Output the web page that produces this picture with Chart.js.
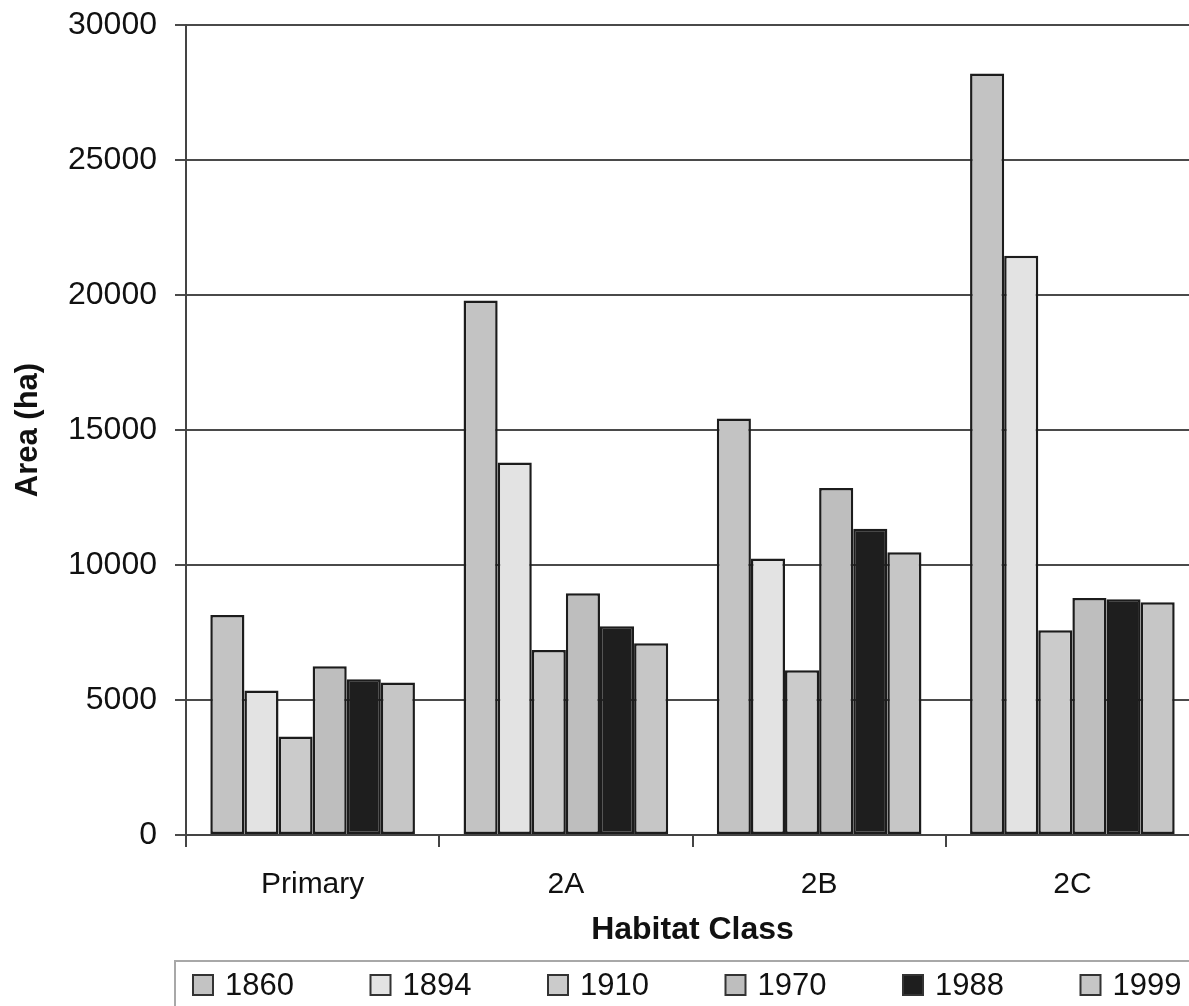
<!DOCTYPE html>
<html>
<head>
<meta charset="utf-8">
<title>Area by Habitat Class</title>
<script src="https://cdn.jsdelivr.net/npm/chart.js@4.4.1/dist/chart.umd.min.js"></script>
<style>
    html, body { margin: 0; padding: 0; background: #ffffff; overflow: hidden; }
    #wrap { width: 1200px; height: 1006px; }
</style>
</head>
<body>
<div id="wrap">
    <canvas id="areaChart" width="1200" height="1006"></canvas>
</div>
<script>
// Data (perkiraan)
const categories = ['Primary', '2A', '2B', '2C'];
const years = ['1860', '1894', '1910', '1970', '1988', '1999'];

const area1860 = [8150, 19800, 15430, 28200];
const area1894 = [5350, 13800, 10240, 21450];
const area1910 = [3650, 6850, 6100, 7580];
const area1970 = [6250, 8950, 12850, 8780];
const area1988 = [5770, 7730, 11340, 8730];
const area1999 = [5650, 7100, 10470, 8620];

const yTicks = [0, 5000, 10000, 15000, 20000, 25000, 30000];

const seriesValues = [area1860, area1894, area1910, area1970, area1988, area1999];
const seriesColors = ['#c3c3c3', '#e3e3e3', '#cbcbcb', '#bebebe', '#1e1e1e', '#c6c6c6'];

const FONT = '"Liberation Sans", Arial, Helvetica, sans-serif';

// Legend digambar manual supaya posisinya sama dengan gambar asli
const boxLegend = {
    id: 'boxLegend',
    afterDraw(chart, args, opts) {
        const ctx = chart.ctx;
        ctx.save();

        // kotak legend
        ctx.strokeStyle = '#a8a8a8';
        ctx.lineWidth = 2;
        ctx.strokeRect(opts.left, opts.top, chart.width + 20 - opts.left, 80);

        ctx.font = opts.fontSize + 'px ' + FONT;
        ctx.textBaseline = 'middle';
        ctx.textAlign = 'left';

        chart.data.datasets.forEach((ds, i) => {
            const x = opts.firstX + i * opts.step;
            const y = opts.boxY;
            ctx.fillStyle = ds.backgroundColor;
            ctx.fillRect(x, y, opts.box, opts.box);
            ctx.strokeStyle = '#333333';
            ctx.lineWidth = 2;
            ctx.strokeRect(x, y, opts.box, opts.box);

            ctx.fillStyle = '#111111';
            ctx.fillText(ds.label, x + opts.box + 12, y + opts.box / 2 + 1);
        });
        ctx.restore();
    }
};

function renderAreaChart() {
    const ctx = document.getElementById('areaChart').getContext('2d');

    const datasets = years.map((year, i) => ({
        label: year,
        data: seriesValues[i],
        backgroundColor: seriesColors[i],
        borderColor: '#1c1c1c',
        borderWidth: 2.5,
        borderSkipped: false,
        barPercentage: 1.0,
        categoryPercentage: 0.808
    }));

    new Chart(ctx, {
        type: 'bar',
        data: {
            labels: categories,
            datasets: datasets
        },
        options: {
            responsive: false,
            animation: false,
            layout: {
                padding: { top: 25, left: 0, right: 1, bottom: 51 }
            },
            plugins: {
                legend: { display: false },
                tooltip: { enabled: false },
                boxLegend: {
                    left: 175,
                    top: 961,
                    firstX: 193,
                    step: 177.5,
                    boxY: 975,
                    box: 20,
                    fontSize: 31
                }
            },
            scales: {
                x: {
                    afterFit: (scale) => { scale.height = 120; },
                    grid: {
                        offset: true,
                        drawOnChartArea: false,
                        drawTicks: true,
                        tickLength: 12,
                        color: '#444444',
                        lineWidth: 2
                    },
                    border: { color: '#444444', width: 2 },
                    ticks: {
                        padding: 20,
                        color: '#111111',
                        font: { family: FONT, size: 30 }
                    },
                    title: {
                        display: true,
                        text: 'Habitat Class',
                        color: '#111111',
                        padding: { top: 0, bottom: 6 },
                        font: { family: FONT, size: 32, weight: 'bold' }
                    }
                },
                y: {
                    min: 0,
                    max: 30000,
                    afterFit: (scale) => {
                        scale.width = 186;
                        // jangan tambah ruang ekstra di atas/bawah untuk label
                        scale.paddingTop = 0;
                        scale.paddingBottom = 0;
                    },
                    afterBuildTicks: (scale) => {
                        scale.ticks = yTicks.map(v => ({ value: v }));
                    },
                    grid: {
                        color: '#4a4a4a',
                        lineWidth: 2,
                        tickLength: 11
                    },
                    border: { color: '#444444', width: 2 },
                    ticks: {
                        padding: 18,
                        color: '#111111',
                        font: { family: FONT, size: 32 },
                        callback: (v) => String(v)
                    },
                    title: {
                        display: true,
                        text: 'Area (ha)',
                        color: '#111111',
                        padding: { top: 10, bottom: 10 },
                        font: { family: FONT, size: 31, weight: 'bold' }
                    }
                }
            }
        },
        plugins: [boxLegend]
    });
}

document.addEventListener('DOMContentLoaded', renderAreaChart);
</script>
</body>
</html>
